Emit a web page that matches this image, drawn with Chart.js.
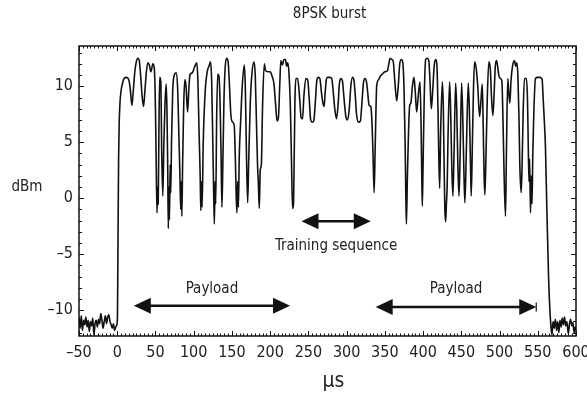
<!DOCTYPE html>
<html>
<head>
<meta charset="utf-8">
<script src="https://cdn.jsdelivr.net/npm/chart.js@4.4.1/dist/chart.umd.min.js"></script>
<style>
  body { margin:0; background:#fff; }
  canvas { display:block; }
</style>
</head>
<body>
<canvas id="burstChart" width="587" height="396"></canvas>
<script>
// BURST TRACE  [time in us, power in dBm]

var noiseBefore = [[-50,-10.6],[-48.5,-11.6],[-47,-10.5],[-45.5,-11.8],[-44,-10.9],[-42.5,-11.3],[-41,-10.6],[-39.5,-11.5],
  [-38,-10.9],[-36.5,-11.9],[-35,-11.0],[-33.5,-11.4],[-32,-10.7],[-30.5,-12.2],[-29,-11.2],[-27.5,-10.9],[-26,-11.5],
  [-24.5,-10.8],[-23,-11.2],[-21.5,-10.3],[-20,-10.9],[-18.5,-11.6],[-17,-11.0],[-15.5,-10.5],[-14,-11.2],[-12.5,-10.6],
  [-11,-10.4],[-9.5,-11.0],[-8,-11.3],[-6.5,-11.6],[-5,-11.2],[-3.5,-11.8],[-2,-11.5],[-0.5,-11.3]];

var payloadOne = [[0.3,-10.5],[0.8,-6],[1.3,-1],[1.8,3.5],[2.5,6.5],[3.5,8.4],[5,9.6],[7,10.3],[9,10.7],[12,10.8],[15,10.6],
  [17,9.8],[19.2,8.3],[21,9.6],[23,11.3],[25,12.2],[27,12.5],[29,12.2],[31,10.6],[32.7,9],[34.4,8.2],[36,9.4],[38,11.2],
  [40,12.1],[42,11.9],[44,11.3],[46.6,12.0],[48.5,11.6],[50,8],[51,3],[52,-1.3],[52.8,1],[53.6,-0.5],[54.5,6],[55.5,10.8],
  [57,10.4],[58.2,4],[59.6,0.2],[61,5],[62.5,8.5],[64,10.2],[65,8],[66,3],[66.8,-2.7],[67.6,1],[68.3,-1.9],[69.2,3],[70,0.5],
  [71,5],[72.5,9.5],[74.5,11.0],[77,11.2],[79,9.8],[80.5,6],[82,2],[83,-1],[83.8,1.5],[84.5,-1.6],[85.5,3],[87,8.5],
  [88.5,10.6],[90,10],[92,7.7],[93.5,9.5],[95,11],[98,11.2],[101,11.7],[104,12.1],[105.5,10.5],[107,6],[108.5,2],
  [109.3,-1.1],[110.3,1.5],[111,-0.8],[112.5,5],[115,9.5],[118,11.4],[120,11.8],[122,12.2],[123.5,10.5],[125,5],[126,1],
  [127,-2.3],[128,1.5],[128.8,-0.5],[130,7],[131.4,11.1],[133,10.9],[134.5,8.5],[135.8,4],[136.9,-0.8],[138,2.5],[139.5,8.5],
  [141,11.5],[142.8,12.5],[145,12.2],[146.5,10.5],[148.8,7.3],[151,6.8],[153,6.5],[154.5,3.5],[155.5,0.5],[156.5,-1.3],
  [157.5,1.5],[158.5,-0.8],[159.5,3.5],[161.5,7],[163.5,10],[166.2,11.9],[167.5,10],[169,4],[170.6,-0.4],[172,3.5],[174,8.5],
  [176,11],[178.8,12.2],[180.5,11],[182,7],[183.5,3],[184.5,1.5],[185.8,-0.9],[187,2.5],[188.5,3],[190,8],[192.3,12.0],
  [194,11.4],[197,11.3],[200,11.3],[202.5,10.9],[205,10.2],[207,8.5],[209,6.9],[210.8,7.2],[212.5,10],[214,12.3],[216,11.9],
  [218,12.4],[220,12.4],[221.5,11.8],[223,12.1],[224.5,11.3],[226.5,8],[228,3],[229.3,-0.9],[230.5,-0.5],[231.5,4],[232.5,9],
  [233.7,10.7]];

var trainingSeq = [[236,10.7],[238.5,9],[240.5,7.2],[242.4,7.1],[244,9],[246.7,10.7],[249,10.6],[251,9],[253,7],[255,6.8],
  [257,6.9],[259,8.5],[261,10.5],[263,10.8],[265,10.7],[267,9.5],[269,8.5],[270.6,8.2],[272,9.5],[273.5,10.6],[275,10.8],
  [278,10.8],[280.5,10.7],[282.5,9.5],[284.5,8],[286.8,7.1],[289,8.5],[290.5,10.2],[292.4,10.7],[294.5,10.5],[296.5,9],
  [299,7.3],[301.2,7.0],[303.5,8],[305.5,10],[307.7,10.8],[309.5,10.6],[311,9.5],[313,7.5],[315.5,6.8],[318,6.9],[320,8.5],
  [322,10.3],[324,10.7],[326,10.4],[327.5,9.5],[329.4,8.3],[331.6,8.2]];

var payloadTwo = [[333,7],[334.5,4],[336,0.5],[337.5,5],[339.4,10.1],[342,10.6],[344,10.9],[346.8,11.1],[350,11.3],
  [353.4,11.4],[355,11.9],[356.8,12.5],[359,12.4],[361,12.2],[363,10.5],[365.5,8.7],[367.5,10],[369.5,12],[371.7,12.4],
  [373.5,12.1],[375,10],[376.5,5],[377.5,0],[378.2,-2.3],[379.5,2],[381,6],[382.5,8.3],[384,8.5],[386,10],[388.1,10.8],
  [389.8,9.5],[391.6,7.7],[393.5,9],[396,10.4],[397.5,6],[398.3,2],[399,-0.7],[400,3],[401.5,9],[403.4,12.4],[405.5,12.5],
  [407.5,12.3],[409,10.5],[410.8,8.0],[412.5,9.5],[414.5,11.8],[416.4,12.4],[418,12],[419.5,8],[420.5,4],[421.7,0.9],[423,6],
  [425.2,10.4],[426.5,8],[427.5,3],[428.5,-1],[429.5,-2.1],[430.5,-0.5],[431.5,1],[432.5,5],[434.7,10.4],[436,8],[437.5,3],
  [439,0.2],[440.5,4],[442.6,10.3],[444,8],[445.5,3],[447,0.2],[448.5,4],[450.4,10.3],[452,7],[453.5,2],[454.7,-0.4],
  [456.5,4],[459.1,10.3],[460.5,8],[462,3],[463,0.2],[464.5,5],[466,10],[467.4,12.2],[469.5,11.6],[471.5,10],[473.9,7.3],
  [475.5,8.5],[477.4,10.2],[478.5,7],[479.8,2],[480.8,0.3],[482,3],[484,9],[486,12.2],[488,11.5],[489.5,9],[491.3,7.4],
  [493,9.5],[494.5,11.8],[496,12.3],[497.5,11.8],[499,11],[501,10.7],[503,10.5],[504.5,7],[506,2],[507.8,-1.6],[509,4],
  [510.8,10.7],[512,9.5],[513.5,8.5],[515,10.5],[517,11.8],[519.6,12.3],[521,11.8],[522.5,12.1],[524,11],[525.5,7],[526.5,3],
  [528.3,0.5],[529.5,3],[531,8],[532.6,10.7],[535,10.7],[536.5,9],[537.5,5],[538.5,1.5],[539.3,3.5],[540.5,-1.3],[541.5,2],
  [542.5,-0.5],[543.5,4],[545,8],[547,10.7],[550,10.8],[553,10.8],[555.7,10.6],[557,9],[558.5,7],[560,4.7],[562,-1.3],
  [564.2,-7.2],[566,-10.2]];

var noiseAfter = [[567,-11.2],[568.5,-12.2],[570,-11.0],[571.5,-11.6],[573,-10.8],[574.5,-11.8],[576,-11.0],[577.5,-12.0],
  [579,-10.9],[580.5,-11.5],[582,-10.7],[583.5,-11.3],[585,-10.6],[586.5,-11.4],[588,-11.0],[590,-12.1],[591.5,-11.2],
  [593,-10.8],[594.5,-11.4],[596,-11.1],[597.5,-12.0],[599,-11.5],[600,-11.8]];

// ANNOTATIONS (data units)
var arrowFrom  = [21.7, 241, 338];
var arrowTo    = [226, 331.6, 548];
var arrowAt    = [-9.6, -2.05, -9.7];
var arrowText  = ['Payload', 'Training sequence', 'Payload'];
var arrowTextAt = [-8.1, -4.25, -8.1];
var arrowEndBar = [false, false, true];

// AXES
var xMin = -50, xMax = 600, xStep = 50;
var yMin = -12.3, yMax = 13.6, yStep = 5;

var FONT = "'Liberation Sans Narrow', 'DejaVu Sans Condensed', 'Arial Narrow', sans-serif";

var trace = [].concat(noiseBefore, payloadOne, trainingSeq, payloadTwo, noiseAfter)
  .map(function (p) { return { x: p[0], y: p[1] }; });

function dash(v) { return String(v).replace('-', '\u2013'); }

// frame, inside ticks, arrows and free texts
const decorPlugin = {
  id: 'decor',
  afterDraw(chart) {
    const ctx = chart.ctx;
    const a = chart.chartArea;
    const xs = chart.scales.x, ys = chart.scales.y;
    ctx.save();
    ctx.strokeStyle = '#111';
    ctx.lineWidth = 1.5;
    ctx.strokeRect(a.left, a.top, a.right - a.left, a.bottom - a.top);

    ctx.lineWidth = 1;
    ctx.beginPath();
    for (let v = xMin; v <= xMax; v += 5) {
      const px = Math.round(xs.getPixelForValue(v)) + 0.5;
      const len = (v % 50 === 0) ? 5 : 2.5;
      ctx.moveTo(px, a.bottom); ctx.lineTo(px, a.bottom - len);
      ctx.moveTo(px, a.top); ctx.lineTo(px, a.top + len);
    }
    for (let v = Math.ceil(yMin); v <= yMax; v += 1) {
      const py = Math.round(ys.getPixelForValue(v)) + 0.5;
      const len = (v % 5 === 0) ? 5 : 3;
      ctx.moveTo(a.left, py); ctx.lineTo(a.left + len, py);
      ctx.moveTo(a.right, py); ctx.lineTo(a.right - len, py);
    }
    ctx.stroke();

    // arrows
    ctx.fillStyle = '#111';
    ctx.lineWidth = 2.5;
    const head = 17, half = 8;
    for (let i = 0; i < arrowFrom.length; i++) {
      const x1 = xs.getPixelForValue(arrowFrom[i]);
      const x2 = xs.getPixelForValue(arrowTo[i]);
      const y = ys.getPixelForValue(arrowAt[i]);
      ctx.beginPath();
      ctx.moveTo(x1 + head - 2, y); ctx.lineTo(x2 - head + 2, y);
      ctx.stroke();
      ctx.beginPath();
      ctx.moveTo(x1, y); ctx.lineTo(x1 + head, y - half); ctx.lineTo(x1 + head, y + half); ctx.closePath();
      ctx.moveTo(x2, y); ctx.lineTo(x2 - head, y - half); ctx.lineTo(x2 - head, y + half); ctx.closePath();
      ctx.fill();
      if (arrowEndBar[i]) {
        ctx.lineWidth = 1.2;
        ctx.beginPath();
        ctx.moveTo(x2, y - 4.5); ctx.lineTo(x2, y + 4.5);
        ctx.stroke();
        ctx.lineWidth = 2.5;
      }
      ctx.font = '15px ' + FONT;
      ctx.fillStyle = '#222';
      ctx.textAlign = 'center';
      ctx.textBaseline = 'middle';
      ctx.fillText(arrowText[i], (x1 + x2) / 2, ys.getPixelForValue(arrowTextAt[i]));
      ctx.fillStyle = '#111';
    }

    // titles
    ctx.fillStyle = '#222';
    ctx.textAlign = 'center';
    ctx.textBaseline = 'middle';
    ctx.font = '15px ' + FONT;
    ctx.fillText('8PSK burst', (a.left + a.right) / 2 + 2, 14);
    ctx.fillText('dBm', 27, ys.getPixelForValue(1));
    ctx.font = '21px ' + FONT;
    ctx.fillText('\u00b5s', (a.left + a.right) / 2 + 6, 382);
    ctx.restore();
  }
};

const burstChart = new Chart('burstChart', {
  type: 'scatter',
  data: {
    datasets: [{
      label: '8PSK burst',
      data: trace,
      showLine: true,
      borderColor: '#111',
      borderWidth: 1.6,
      pointRadius: 0,
      cubicInterpolationMode: 'monotone'
    }]
  },
  options: {
    responsive: false,
    animation: false,
    layout: { padding: { top: 46, right: 11, left: 0, bottom: 0 } },
    plugins: { legend: { display: false }, tooltip: { enabled: false } },
    scales: {
      x: {
        type: 'linear', min: xMin, max: xMax,
        grid: { display: false, drawTicks: false },
        border: { display: false },
        ticks: {
          stepSize: xStep, autoSkip: false, maxRotation: 0, padding: 7,
          color: '#222', font: { family: FONT, size: 16 },
          callback: function (v) { return dash(v); }
        },
        afterFit: function (s) { s.height = 60; s.paddingLeft = 0; s.paddingRight = 0; }
      },
      y: {
        min: yMin, max: yMax,
        grid: { display: false, drawTicks: false },
        border: { display: false },
        ticks: {
          stepSize: yStep, autoSkip: false, padding: 6,
          color: '#222', font: { family: FONT, size: 16 },
          callback: function (v) { return (Number.isInteger(v) && v % 5 === 0) ? dash(v) : ''; }
        },
        afterFit: function (s) { s.width = 79; s.paddingTop = 0; s.paddingBottom = 0; }
      }
    }
  },
  plugins: [decorPlugin]
});
</script>
</body>
</html>
